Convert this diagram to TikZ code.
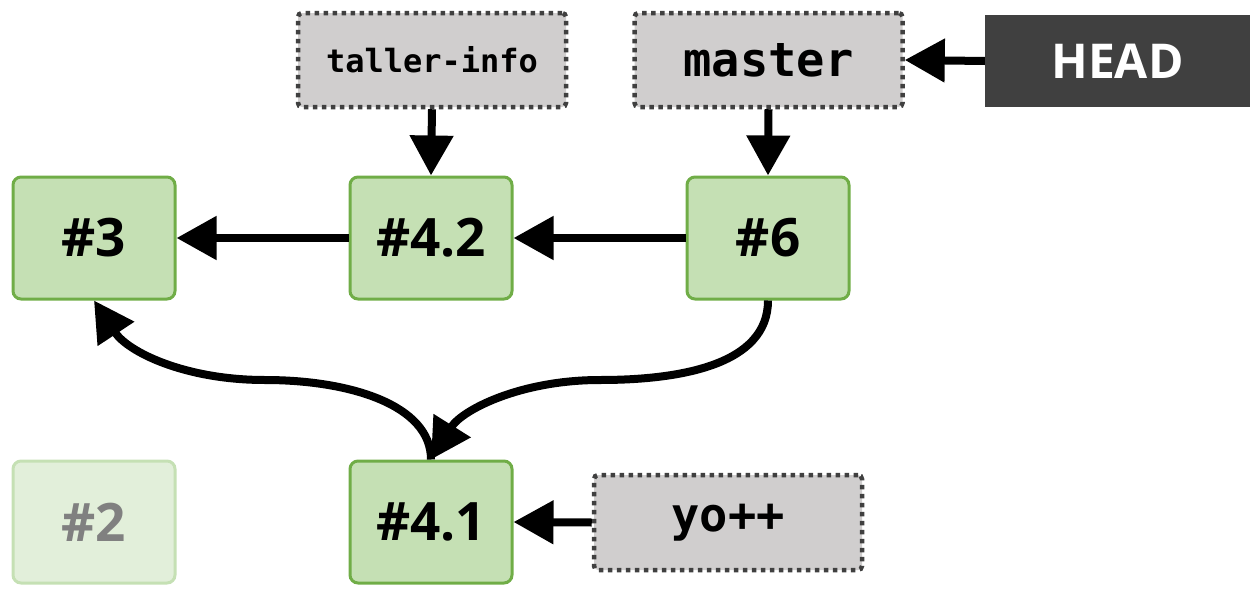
\documentclass[tikz,border=0pt]{standalone}
\usepackage{fontspec}
\usetikzlibrary{arrows.meta}
\newfontfamily\monof{DejaVu Sans Mono}
\newfontfamily\labf{Open Sans}
\definecolor{cgreen}{HTML}{C5E0B4}
\definecolor{cgreenb}{HTML}{70AD47}
\definecolor{cfaint}{HTML}{E2EFDA}
\definecolor{cfaintb}{HTML}{C5E0B4}
\definecolor{cref}{HTML}{D0CECE}
\definecolor{crefb}{HTML}{404040}
\definecolor{chead}{HTML}{404040}
\tikzset{
  commit/.style={draw=cgreenb, fill=cgreen, line width=3pt, rounded corners=8pt,
    minimum width=162pt, minimum height=122pt, inner sep=0pt,
    font=\labf\bfseries\fontsize{53}{60}\selectfont},
  oldcommit/.style={commit, draw=cfaintb, fill=cfaint, text=gray},
  refbox/.style={draw=crefb, fill=cref, line width=4.5pt, dash pattern=on 4.5pt off 4.5pt,
    rounded corners=4pt, minimum width=268pt, minimum height=94pt, inner sep=0pt},
  headbox/.style={fill=chead, text=white, minimum width=265pt, minimum height=92pt, inner sep=0pt,
    font=\labf\bfseries\fontsize{48}{56}\selectfont},
  link/.style={line width=8pt, -{Triangle[length=40pt 0 0,width=42pt 0 0]}},
}
\begin{document}
\begin{tikzpicture}[x=1pt,y=-1pt]
\useasboundingbox (0,0) rectangle (1259,597);
\node[commit] (c3) at (94,238) {\#3};
\node[commit] (c42) at (431,238) {\#4.2};
\node[commit] (c6) at (768,238) {\#6};
\node[oldcommit] (c2) at (94,522) {\#2};
\node[commit] (c41) at (431,522) {\#4.1};
\node[refbox, font=\monof\bfseries\fontsize{32}{36}\selectfont] (ti) at (432,60) {taller-info};
\node[refbox, font=\monof\bfseries\fontsize{47}{52}\selectfont] (ms) at (768.5,60) {master};
\node[headbox] (hd) at (1117.5,61) {HEAD};
\node[refbox, font=\monof\bfseries\fontsize{47}{52}\selectfont, minimum height=95pt] (yo) at (728,522.5) {yo++};
\draw[link] (ti.south) -- (c42.north);
\draw[link] (ms.south) -- (c6.north);
\draw[link] (hd.west) -- (ms.east);
\draw[link] (c42.west) -- (c3.east);
\draw[link] (c6.west) -- (c42.east);
\draw[link] (yo.west) -- (c41.east);
\draw[link] (c41.north) .. controls (431,405) and (350,380) .. (265,380)
  .. controls (185,380) and (128,352) .. (c3.south);
\draw[link] (c6.south) .. controls (768,365) and (680,380) .. (600,380)
  .. controls (520,380) and (462,410) .. (c41.north);
\end{tikzpicture}
\end{document}
